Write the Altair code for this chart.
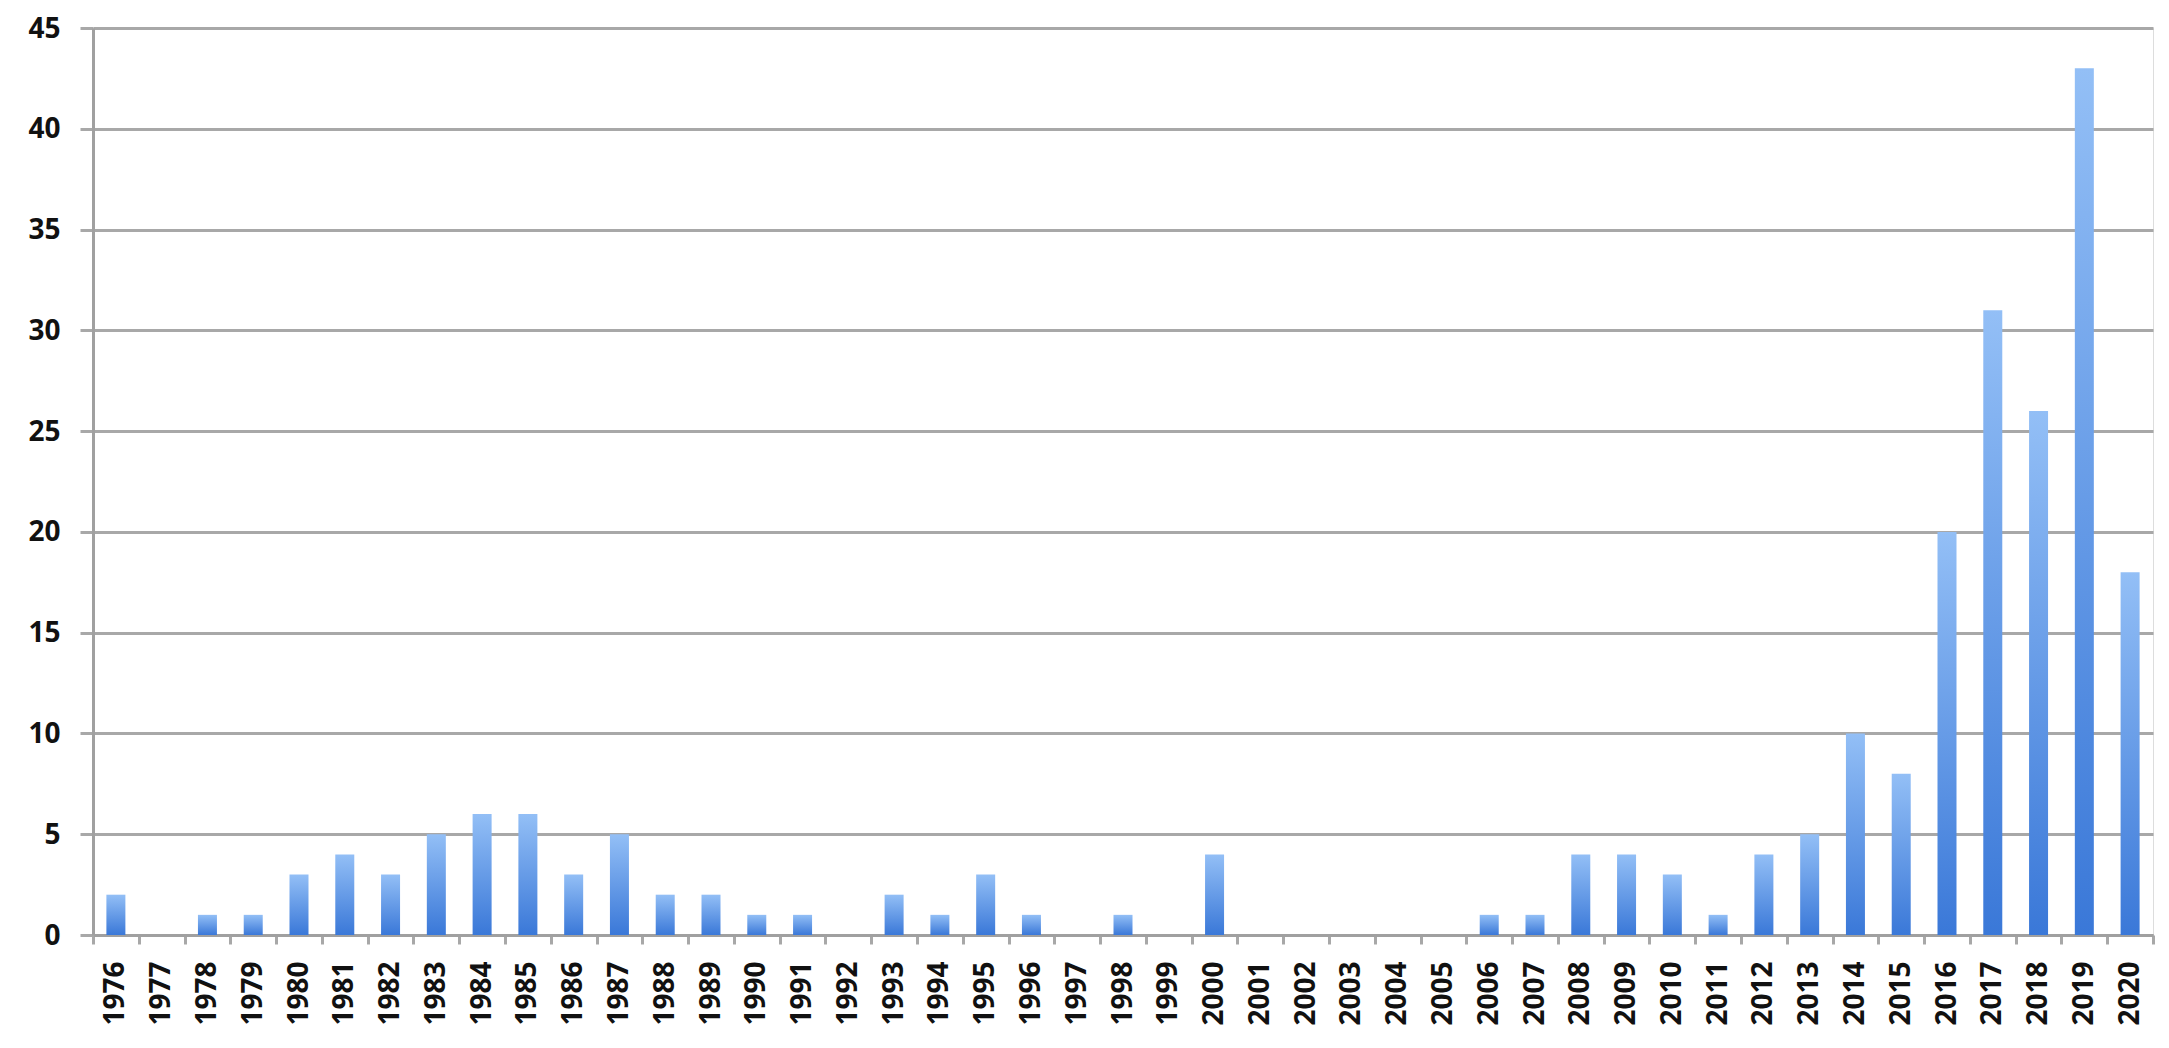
import altair as alt
import pandas as pd

years = [str(y) for y in range(1976, 2021)]
counts = [2, 0, 1, 1, 3, 4, 3, 5, 6, 6, 3, 5, 2, 2, 1, 1, 0, 2, 1, 3, 1, 0, 1, 0, 4,
          0, 0, 0, 0, 0, 1, 1, 4, 4, 3, 1, 4, 5, 10, 8, 20, 31, 26, 43, 18]

df = pd.DataFrame({"year": years, "count": counts})

grad = alt.Gradient(
    gradient="linear", x1=0, y1=0, x2=0, y2=1,
    stops=[alt.GradientStop(color="#93bff6", offset=0),
           alt.GradientStop(color="#3a78d8", offset=1)],
)

FONT = "Noto Sans"

chart = alt.Chart(df).mark_bar(color=grad, size=19).encode(
    x=alt.X("year:N", sort=None, title=None,
            scale=alt.Scale(paddingInner=0, paddingOuter=0),
            axis=alt.Axis(labelAngle=-90, labelAlign="right", labelBaseline="middle",
                          labelFont=FONT, labelFontWeight="bold", labelFontSize=28,
                          labelColor="#111111", labelPadding=17,
                          tickBand="extent", tickSize=9, tickWidth=3, tickColor="#a8a8a8",
                          domainColor="#a0a0a0", domainWidth=3, grid=False,
                          labelOverlap=False)),
    y=alt.Y("count:Q", title=None,
            scale=alt.Scale(domain=[0, 45], nice=False),
            axis=alt.Axis(values=list(range(0, 50, 5)), labelFont=FONT,
                          labelFontWeight="bold", labelFontSize=28, labelColor="#111111",
                          labelPadding=20, labelOffset=1, tickSize=13, tickWidth=3,
                          tickColor="#a8a8a8", domainColor="#a0a0a0", domainWidth=3,
                          grid=True, gridColor="#a8a8a8", gridWidth=3)),
).properties(
    width=2060, height=907,
    autosize=alt.AutoSizeParams(type="none"),
    padding={"left": 85, "top": 20, "right": 8, "bottom": 105},
).configure_view(stroke=None).configure(background="white")

chart.save("out.html", embed_options={"renderer": "svg", "actions": False})
